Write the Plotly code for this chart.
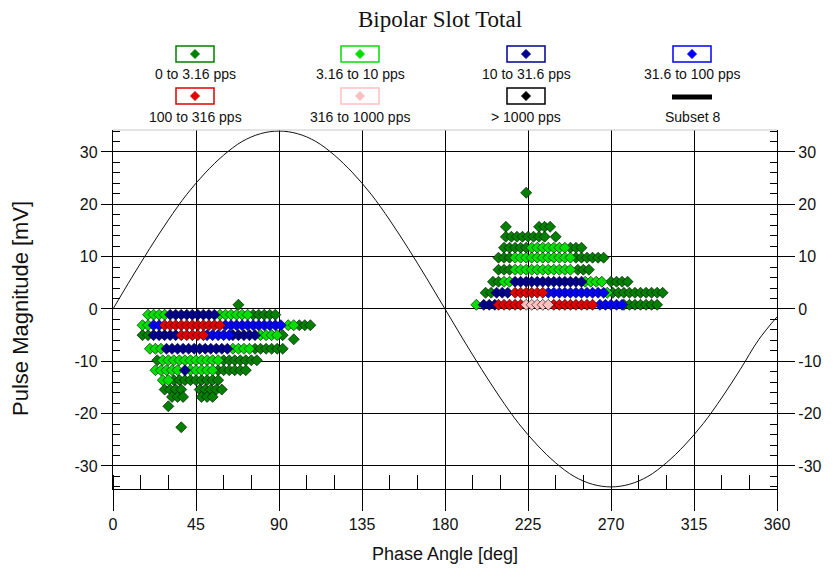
import plotly.graph_objects as go

# ---------------- data ----------------
# each series: list of (pulse magnitude [mV], [phase angles in deg])
dark_green_rows = [
    (0.8, [68]),
    (-1.1, [76, 79, 82, 85, 88]),
    (-3.1, [101, 104, 107]),
    (-5.0, [16, 19, 92]),
    (-5.8, [98]),
    (-7.6, [77, 80, 83, 86, 89, 92]),
    (-9.8, [24, 60, 63, 66, 69, 72, 75, 78]),
    (-11.7, [57, 60, 63, 66, 69, 72]),
    (-13.6, [33, 36, 39, 42, 45, 48, 51, 54, 57]),
    (-15.4, [28, 31, 34, 37, 47, 50, 53, 56, 59]),
    (-16.8, [32, 35, 38, 48, 51, 54]),
    (-18.6, [30]),
    (-22.6, [37]),
    (22.2, [224]),
    (15.7, [213, 231, 234, 237]),
    (13.8, [213, 216, 219, 222, 225, 228, 231, 234, 240]),
    (11.7, [212, 215, 218, 221, 224, 248, 251, 254]),
    (9.8, [209, 212, 215, 251, 254, 257, 260, 263, 266]),
    (7.5, [209, 212, 215, 252, 255, 258]),
    (5.2, [206, 209, 270, 273, 276, 279]),
    (3.1, [202, 205, 271, 274, 277, 280, 283, 286, 289, 292, 295, 298]),
    (0.8, [277, 280, 283, 286, 289, 292, 295]),
]
bright_green_rows = [
    (-1.1, [19, 22, 25, 28, 58, 61, 64, 67, 70, 73]),
    (-3.1, [16, 19, 95, 98]),
    (-5.0, [80, 83, 86, 89]),
    (-7.6, [20, 23, 26, 65, 68, 71, 74]),
    (-9.8, [27, 30, 33, 36, 39, 42, 45, 48, 51, 54, 57]),
    (-11.7, [23, 26, 29, 32, 35, 42, 45, 48, 51, 54]),
    (-13.6, [27, 30]),
    (11.7, [227, 230, 233, 236, 239, 242, 245]),
    (9.8, [218, 221, 224, 227, 230, 233, 236, 239, 242, 245, 248]),
    (7.5, [218, 221, 224, 227, 230, 233, 236, 239, 242, 245, 248]),
    (5.2, [212, 215, 256, 259, 262, 265]),
    (3.1, [268]),
    (0.8, [197]),
]
navy_rows = [
    (-1.1, [31, 34, 37, 40, 43, 46, 49, 52, 55]),
    (-5.0, [22, 25, 28, 31, 34, 65, 68, 71, 74, 77]),
    (-7.6, [29, 32, 35, 38, 41, 44, 47, 50, 53, 56, 59, 62]),
    (-11.7, [39]),
    (5.2, [218, 221, 224, 227, 230, 233, 236, 239, 242, 245, 248, 251, 254]),
    (3.1, [208, 211, 214]),
    (0.8, [201, 204, 207]),
]
blue_rows = [
    (-3.1, [22, 25, 61, 64, 67, 70, 73, 76, 79, 82, 85, 88, 91]),
    (-5.0, [51, 54, 57, 60, 63]),
    (3.1, [236, 239, 242, 245, 248, 251, 254, 257, 260, 263, 266]),
    (0.8, [264, 267, 270, 273, 276]),
]
red_rows = [
    (-3.1, [28, 31, 34, 37, 40, 43, 46, 49, 52, 55, 58]),
    (-5.0, [37, 40, 43, 46, 49]),
    (3.1, [218, 221, 224, 227, 230, 233]),
    (0.8, [209, 212, 215, 218, 221, 239, 242, 245, 248, 251, 254, 257, 260]),
]
pink_rows = [
    (0.8, [224, 227, 230, 233, 236]),
]
black_rows = []

# Subset 8 reference curve
curve_phase = [0, 10, 20, 30, 40, 50, 60, 70, 80, 90, 100, 110, 120, 130, 140, 150, 160, 170, 180,
               190, 200, 210, 220, 230, 240, 250, 260, 270, 280, 290, 300, 310, 320, 330, 340, 350, 360]
curve_mag = [0, 5.9, 11.6, 17, 21.9, 26, 29.4, 32, 33.5, 34, 33.5, 32, 29.4, 26, 21.9, 17, 11.6, 5.9, 0,
             -5.9, -11.6, -17, -21.9, -26, -29.4, -32, -33.5, -34, -33.5, -32, -29.4, -26, -21.9, -17,
             -11.6, -5.9, -1.5]

series_names = ["0 to 3.16 pps", "3.16 to 10 pps", "10 to 31.6 pps", "31.6 to 100 pps",
                "100 to 316 pps", "316 to 1000 pps", "> 1000 pps"]
series_rows = [dark_green_rows, bright_green_rows, navy_rows, blue_rows, red_rows, pink_rows, black_rows]
series_colors = ["#008000", "#00e000", "#000090", "#0000ff", "#e00000", "#ffc0c0", "#000000"]
curve_name = "Subset 8"

x_ticks = [0, 45, 90, 135, 180, 225, 270, 315, 360]
y_ticks = [-30, -20, -10, 0, 10, 20, 30]
y_ticktext = ["-30", "-20", "-10", "0", "10", "20", "30"]

# ---------------- figure ----------------
# page body has an 8px margin: figure is sized so the screen layout matches
OFF = 8
W, H = 840 - OFF, 575 - OFF
SX0, SX1 = 113, 777      # plot area on screen (x)
SY0, SY1 = 130, 489      # plot area on screen (y)
ML = SX0 - OFF
MT = SY0 - OFF
MR = W - (SX1 - OFF)
MB = H - (SY1 - OFF)
PW = SX1 - SX0
PH = SY1 - SY0


def px(sx):
    return (sx - SX0) / PW


def py(sy):
    return (SY1 - sy) / PH


FONT = "Liberation Sans, Arial, sans-serif"
TXT = "#111111"

fig = go.Figure()

fig.add_trace(go.Scatter(x=curve_phase, y=curve_mag, mode="lines", name=curve_name,
                         line=dict(color="#111111", width=1, shape="spline"),
                         showlegend=False, hoverinfo="skip"))

for name, rows, col in zip(series_names, series_rows, series_colors):
    xs, ys = [], []
    for mag, phases in rows:
        for ph in phases:
            xs.append(ph)
            ys.append(mag)
    fig.add_trace(go.Scatter(x=xs, y=ys, mode="markers", name=name, showlegend=False,
                             marker=dict(symbol="diamond", size=8.5, color=col,
                                         line=dict(color="#000000", width=0.6))))

# dummy trace for right axis
fig.add_trace(go.Scatter(x=[None], y=[None], yaxis="y2", showlegend=False, hoverinfo="skip"))

shapes = []
annotations = []

# top border (light grey)
shapes.append(dict(type="line", xref="paper", yref="paper", x0=0, x1=1, y0=1, y1=1,
                   line=dict(color="#c8c8c8", width=1)))

# custom legend (2 rows x 4 columns)
col_cx = [195, 360, 526, 692]
row_box_cy = [54, 96]
row_lab_cy = [74, 117]
legend_items = list(zip(series_names, series_colors)) + [(curve_name, None)]
for i, (name, col) in enumerate(legend_items):
    r, c = divmod(i, 4)
    cx = col_cx[c]
    cy = row_box_cy[r]
    if col is not None:
        shapes.append(dict(type="rect", xref="paper", yref="paper",
                           x0=px(cx - 19), x1=px(cx + 19), y0=py(cy + 8), y1=py(cy - 8),
                           line=dict(color=col, width=1.5), fillcolor="white"))
        d = 4.5
        path = (f"M {px(cx)},{py(cy - d)} L {px(cx + d)},{py(cy)} "
                f"L {px(cx)},{py(cy + d)} L {px(cx - d)},{py(cy)} Z")
        shapes.append(dict(type="path", xref="paper", yref="paper", path=path,
                           fillcolor=col, line=dict(color=col, width=1)))
    else:
        shapes.append(dict(type="line", xref="paper", yref="paper",
                           x0=px(cx - 20), x1=px(cx + 20), y0=py(cy + 1), y1=py(cy + 1),
                           line=dict(color="black", width=5)))
    annotations.append(dict(text=name, xref="paper", yref="paper", x=px(cx), y=py(row_lab_cy[r]),
                            showarrow=False, xanchor="center", yanchor="middle",
                            font=dict(family=FONT, size=14, color=TXT)))

# title and axis titles
annotations.append(dict(text="Bipolar Slot Total", xref="paper", yref="paper", x=px(440), y=py(19),
                        showarrow=False, xanchor="center", yanchor="middle",
                        font=dict(family="Liberation Serif, Times New Roman, serif", size=23,
                                  color=TXT)))
annotations.append(dict(text="Pulse Magnitude [mV]", xref="paper", yref="paper", x=px(20), y=py(309),
                        textangle=-90, showarrow=False, xanchor="center", yanchor="middle",
                        font=dict(family=FONT, size=22, color=TXT)))
annotations.append(dict(text="Phase Angle [deg]", xref="paper", yref="paper", x=px(445), y=py(554),
                        showarrow=False, xanchor="center", yanchor="middle",
                        font=dict(family=FONT, size=18, color=TXT)))

fig.update_layout(
    width=W, height=H,
    margin=dict(l=ML, r=MR, t=MT, b=MB),
    paper_bgcolor="white", plot_bgcolor="white",
    showlegend=False,
    shapes=shapes, annotations=annotations,
    xaxis=dict(range=[0, 360], tickmode="array", tickvals=x_ticks, ticktext=[str(v) for v in x_ticks],
               ticks="outside", ticklen=21, tickwidth=1.3, tickcolor="black",
               showgrid=True, gridcolor="black", gridwidth=1.3,
               showline=True, linecolor="black", linewidth=1.3, zeroline=False,
               tickfont=dict(family=FONT, size=16, color=TXT),
               minor=dict(ticks="inside", ticklen=14, tickwidth=1.2, tickcolor="black",
                          tick0=0, dtick=15, showgrid=False)),
    yaxis=dict(range=[-34.4, 34.2], tickmode="array", tickvals=y_ticks, ticktext=y_ticktext,
               ticks="outside", ticklen=11, tickwidth=1.3, tickcolor="black",
               showgrid=True, gridcolor="black", gridwidth=1.3,
               showline=True, linecolor="black", linewidth=1.3, zeroline=False,
               tickfont=dict(family=FONT, size=16, color=TXT),
               minor=dict(ticks="inside", ticklen=7, tickwidth=1.2, tickcolor="black",
                          tick0=0, dtick=2, showgrid=False)),
    yaxis2=dict(range=[-34.4, 34.2], overlaying="y", side="right", tickmode="array",
                tickvals=y_ticks, ticktext=y_ticktext,
                ticks="outside", ticklen=17, tickwidth=1.3, tickcolor="black",
                showgrid=False, showline=True, linecolor="black", linewidth=1.3, zeroline=False,
                tickfont=dict(family=FONT, size=16, color=TXT),
                minor=dict(ticks="inside", ticklen=7, tickwidth=1.2, tickcolor="black",
                           tick0=0, dtick=2, showgrid=False)),
)

fig.write_html("out.html")
